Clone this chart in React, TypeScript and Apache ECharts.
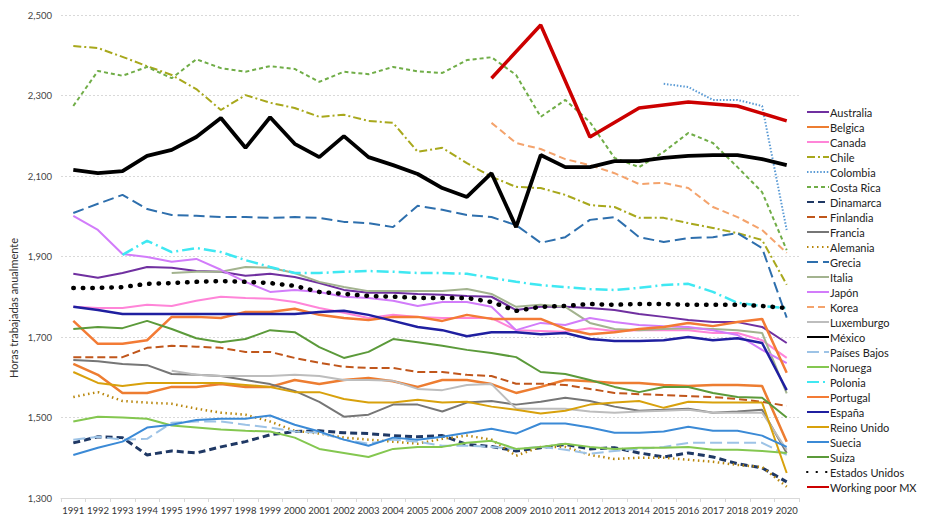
import React, { useEffect, useRef } from "react";
import * as echarts from "echarts";

const years = ["1991","1992","1993","1994","1995","1996","1997","1998","1999","2000","2001","2002","2003","2004","2005","2006","2007","2008","2009","2010","2011","2012","2013","2014","2015","2016","2017","2018","2019","2020"];
const yTicks = { min: 1300, max: 2500, interval: 200 };
const yAxisTitle = "Horas trabajadas anualmente";

const N = null;
const australia = [1857,1847,1859,1874,1872,1864,1862,1852,1857,1849,1834,1817,1810,1810,1807,1805,1802,1800,1767,1775,1775,1772,1767,1757,1750,1742,1737,1737,1725,1685];
const belgica = [1633,1606,1561,1561,1576,1576,1583,1576,1576,1593,1583,1593,1598,1590,1576,1593,1593,1583,1561,1576,1593,1590,1586,1586,1581,1578,1581,1581,1578,1440];
const canada = [1775,1772,1772,1780,1777,1790,1800,1797,1795,1787,1772,1760,1747,1755,1750,1747,1747,1747,1717,1715,1713,1722,1715,1717,1717,1717,1710,1710,1692,1648];
const chile = [2423,2418,2396,2373,2351,2316,2264,2301,2282,2269,2247,2252,2237,2232,2160,2170,2132,2098,2073,2070,2053,2028,2023,1996,1996,1983,1971,1958,1941,1830];
const colombia = [N,N,N,N,N,N,N,N,N,N,N,N,N,N,N,N,N,N,N,N,N,N,N,N,2329,2321,2289,2289,2274,1966];
const costaRica = [2274,2361,2349,2371,2343,2390,2368,2359,2373,2366,2334,2359,2353,2371,2360,2356,2388,2395,2351,2247,2289,2234,2145,2122,2160,2207,2182,2122,2060,1916];
const dinamarca = [1437,1452,1450,1407,1417,1412,1427,1440,1457,1465,1467,1462,1460,1455,1452,1455,1433,1428,1417,1425,1433,1422,1425,1412,1402,1412,1402,1385,1375,1340];
const finlandia = [1650,1650,1650,1673,1678,1676,1673,1663,1663,1648,1636,1626,1623,1623,1613,1613,1606,1603,1584,1584,1581,1571,1561,1558,1556,1553,1551,1546,1539,1529];
const francia = [1643,1640,1633,1630,1608,1606,1603,1593,1583,1566,1539,1502,1507,1532,1532,1515,1537,1541,1532,1539,1549,1541,1527,1517,1519,1522,1512,1515,1519,1412];
const alemania = [1551,1563,1541,1537,1534,1522,1512,1507,1490,1467,1460,1450,1445,1440,1435,1447,1455,1445,1405,1427,1427,1407,1397,1400,1400,1395,1390,1382,1377,1328];
const grecia = [2008,2031,2053,2018,2003,2001,1998,1998,1996,1998,1996,1986,1983,1973,2026,2016,2003,1998,1978,1934,1948,1991,1998,1948,1936,1946,1948,1958,1921,1748];
const italia = [N,N,N,N,1859,1862,1862,1874,1872,1859,1837,1824,1814,1814,1814,1814,1819,1807,1775,1780,1775,1735,1720,1717,1720,1722,1720,1717,1710,1560];
const japon = [2001,1966,1906,1899,1887,1894,1867,1837,1812,1817,1812,1800,1797,1790,1777,1787,1787,1775,1717,1735,1730,1747,1737,1730,1727,1725,1717,1705,1668,1635];
const korea = [N,N,N,N,N,N,N,N,N,N,N,N,N,N,N,N,N,2232,2182,2167,2142,2127,2107,2080,2083,2070,2023,1998,1966,1909];
const luxemburgo = [N,N,N,N,1616,1606,1603,1603,1603,1606,1603,1593,1593,1591,1571,1568,1581,1583,1522,1522,1522,1515,1512,1515,1517,1519,1512,1512,1512,1420];
const mexico = [2115,2107,2112,2150,2165,2197,2244,2170,2246,2180,2147,2199,2147,2127,2105,2070,2048,2107,1973,2152,2122,2122,2137,2137,2145,2150,2152,2152,2142,2127];
const paisesBajos = [1445,1452,1445,1447,1487,1490,1490,1482,1475,1465,1462,1445,1435,1445,1440,1430,1430,1427,1422,1427,1420,1410,1417,1422,1427,1437,1437,1437,1437,1407];
const noruega = [1490,1502,1500,1497,1480,1475,1470,1467,1465,1450,1422,1412,1402,1422,1427,1427,1437,1442,1422,1427,1435,1427,1422,1425,1425,1427,1420,1420,1417,1412];
const polonia = [N,N,1904,1939,1911,1921,1911,1891,1874,1859,1859,1862,1864,1862,1859,1859,1857,1847,1837,1829,1824,1819,1817,1822,1829,1832,1812,1785,1777,1772];
const portugal = [1740,1683,1683,1692,1750,1750,1747,1762,1762,1770,1755,1747,1742,1750,1750,1740,1755,1745,1745,1745,1720,1707,1712,1720,1725,1735,1727,1737,1745,1611];
const espana = [1775,1767,1757,1757,1757,1757,1757,1757,1757,1757,1762,1765,1755,1740,1725,1717,1702,1712,1712,1707,1710,1695,1690,1690,1692,1700,1692,1697,1685,1568];
const reinoUnido = [1613,1586,1578,1586,1586,1586,1586,1581,1576,1563,1563,1546,1537,1537,1544,1537,1539,1527,1519,1510,1517,1532,1537,1541,1524,1539,1537,1537,1537,1362];
const suecia = [1407,1425,1440,1475,1482,1494,1497,1497,1505,1482,1465,1445,1430,1450,1445,1452,1462,1472,1460,1485,1485,1475,1462,1462,1465,1477,1467,1467,1455,1427];
const suiza = [1720,1725,1722,1740,1720,1697,1687,1695,1717,1712,1675,1648,1663,1695,1687,1678,1668,1660,1650,1613,1608,1593,1576,1563,1576,1576,1561,1551,1549,1500];
const estadosUnidos = [1822,1822,1824,1832,1834,1837,1839,1837,1834,1827,1812,1807,1802,1800,1797,1797,1797,1787,1765,1775,1777,1782,1780,1782,1782,1780,1780,1780,1777,1772];
const workingPoorMX = [N,N,N,N,N,N,N,N,N,N,N,N,N,N,N,N,N,2343,N,2475,N,2197,N,2269,N,2284,N,2274,N,2237];

type S = { name: string; data: (number | null)[]; color: string; width: number; type: any; cap?: string };

const seriesDefs: S[] = [
  { name: "Australia", data: australia, color: "#7030a0", width: 2, type: "solid" },
  { name: "Belgica", data: belgica, color: "#ed7d31", width: 2.5, type: "solid" },
  { name: "Canada", data: canada, color: "#ff85d8", width: 2, type: "solid" },
  { name: "Chile", data: chile, color: "#a8a81c", width: 2, type: [8, 3, 2, 3] },
  { name: "Colombia", data: colombia, color: "#5b9bd5", width: 2, type: [1.5, 1.8] },
  { name: "Costa Rica", data: costaRica, color: "#70ad47", width: 2, type: [4, 3] },
  { name: "Dinamarca", data: dinamarca, color: "#1f3864", width: 3, type: [7, 4] },
  { name: "Finlandia", data: finlandia, color: "#c0561b", width: 2, type: [8, 4] },
  { name: "Francia", data: francia, color: "#767676", width: 2, type: "solid" },
  { name: "Alemania", data: alemania, color: "#b8860b", width: 2.5, type: [1.5, 3.5] },
  { name: "Grecia", data: grecia, color: "#2e6fad", width: 2, type: [11, 5] },
  { name: "Italia", data: italia, color: "#a3b38f", width: 2, type: "solid" },
  { name: "Japón", data: japon, color: "#d27cfa", width: 2, type: "solid" },
  { name: "Korea", data: korea, color: "#f4a36c", width: 2, type: [7, 4] },
  { name: "Luxemburgo", data: luxemburgo, color: "#bdbdbd", width: 2, type: "solid" },
  { name: "México", data: mexico, color: "#000000", width: 3.8, type: "solid" },
  { name: "Países Bajos", data: paisesBajos, color: "#9dc3e6", width: 2, type: [12, 5] },
  { name: "Noruega", data: noruega, color: "#84c750", width: 2, type: "solid" },
  { name: "Polonia", data: polonia, color: "#3fe8f2", width: 2.5, type: [12, 4, 2, 4] },
  { name: "Portugal", data: portugal, color: "#f37b35", width: 2.5, type: "solid" },
  { name: "España", data: espana, color: "#1f1fa0", width: 2.5, type: "solid" },
  { name: "Reino Unido", data: reinoUnido, color: "#d8a10c", width: 2, type: "solid" },
  { name: "Suecia", data: suecia, color: "#3b8ad6", width: 2, type: "solid" },
  { name: "Suiza", data: suiza, color: "#5b9a3a", width: 2, type: "solid" },
  { name: "Estados Unidos", data: estadosUnidos, color: "#000000", width: 4.5, type: [0.5, 9], cap: "round" },
  { name: "Working poor MX", data: workingPoorMX, color: "#cc0000", width: 3.5, type: "solid" },
];

export default function App() {
  const ref = useRef<HTMLDivElement>(null);
  useEffect(() => {
    if (!ref.current) return;
    const chart = echarts.init(ref.current, null, { renderer: "svg" });
    const font = "Lato, 'Open Sans', sans-serif";
    chart.setOption({
      animation: false,
      backgroundColor: "#ffffff",
      textStyle: { fontFamily: font },
      grid: { left: 61, right: 126, top: 15, bottom: 20, containLabel: false },
      legend: {
        orient: "vertical",
        left: 806,
        top: 106,
        padding: 0,
        itemWidth: 22,
        itemHeight: 8,
        itemGap: 3,
        itemStyle: { opacity: 0 },
        textStyle: { fontSize: 11, lineHeight: 12, color: "#222", fontFamily: font, padding: [0, 0, 0, -4] },
        data: seriesDefs.map((s) => s.name),
      },
      xAxis: {
        type: "category",
        data: years,
        boundaryGap: true,
        axisLine: { lineStyle: { color: "#d9d9d9", width: 1 } },
        axisTick: { show: true, length: 4, lineStyle: { color: "#d9d9d9" } },
        axisLabel: { fontSize: 9.5, color: "#333", margin: 7, fontFamily: font, interval: 0 },
      },
      yAxis: {
        type: "value",
        min: yTicks.min,
        max: yTicks.max,
        interval: yTicks.interval,
        axisLine: { show: false },
        axisTick: { show: false },
        splitLine: { lineStyle: { color: "#d9d9d9", type: [2, 2], width: 1 } },
        axisLabel: {
          fontSize: 9.5,
          color: "#444",
          margin: 9,
          fontFamily: font,
          formatter: (v: number) => v.toLocaleString("en-US"),
        },
      },
      graphic: [
        {
          type: "text",
          x: 13,
          y: 308,
          rotation: Math.PI / 2,
          style: {
            text: yAxisTitle,
            fontSize: 11,
            fontFamily: font,
            fill: "#333",
            align: "center",
            verticalAlign: "middle",
          },
        },
      ],
      series: seriesDefs.map((s) => ({
        name: s.name,
        type: "line",
        data: s.data,
        symbol: "none",
        showSymbol: false,
        connectNulls: true,
        color: s.color,
        itemStyle: { color: s.color, opacity: 0 },
        lineStyle: { color: s.color, width: s.width, type: s.type, cap: s.cap || "butt" },
        emphasis: { disabled: true },
      })),
    });
    return () => chart.dispose();
  }, []);
  return <div ref={ref} style={{ width: 925, height: 518, position: "absolute", left: 0, top: 0 }} />;
}
